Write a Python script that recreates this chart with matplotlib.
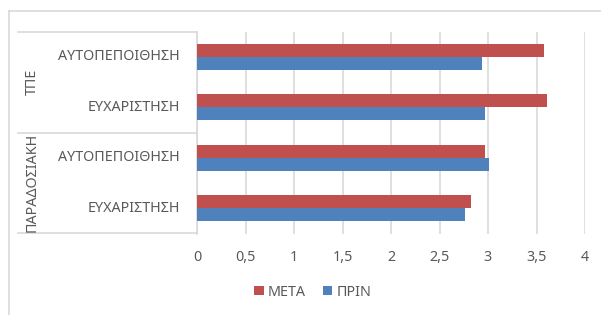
import matplotlib
matplotlib.use("Agg")
import matplotlib.pyplot as plt
from matplotlib.lines import Line2D
from matplotlib.patches import Patch
import numpy as np

groups = ["ΤΠΕ", "ΠΑΡΑΔΟΣΙΑΚΗ"]
categories = ["ΑΥΤΟΠΕΠΟΙΘΗΣΗ", "ΕΥΧΑΡΙΣΤΗΣΗ", "ΑΥΤΟΠΕΠΟΙΘΗΣΗ", "ΕΥΧΑΡΙΣΤΗΣΗ"]  # top to bottom
meta = [3.58, 3.61, 2.97, 2.82]
prin = [2.94, 2.97, 3.01, 2.76]
series_names = ["ΜΕΤΑ", "ΠΡΙΝ"]
xticks = [0, 0.5, 1, 1.5, 2, 2.5, 3, 3.5, 4]
xtick_labels = ["0", "0,5", "1", "1,5", "2", "2,5", "3", "3,5", "4"]

W, H = 601, 315
RED = "#C0504D"
BLUE = "#4F81BD"
GRID = "#D9D9D9"
TXT = "#595959"
FONT = "Noto Sans"
FS = 10.3

fig = plt.figure(figsize=(W / 100, H / 100), dpi=100)
fig.patch.set_facecolor("white")

def fx(px):
    return px / W

def fy(py):
    return 1 - py / H

ax_l, ax_r, ax_t, ax_b = 197, 585, 31.5, 233.5
ax = fig.add_axes([fx(ax_l), fy(ax_b), fx(ax_r) - fx(ax_l), fy(ax_t) - fy(ax_b)])

n = len(categories)
ypos = np.arange(n)[::-1]  # top category at highest y
bh = 0.257
ax.barh(ypos + bh / 2, meta, height=bh, color=RED, label=series_names[0], zorder=3)
ax.barh(ypos - bh / 2, prin, height=bh, color=BLUE, label=series_names[1], zorder=3)

ax.set_xlim(0, 4)
ax.set_ylim(-0.5, n - 0.5)
ax.set_xticks(xticks)
ax.set_xticklabels(xtick_labels, fontsize=FS, color=TXT, family=FONT)
ax.tick_params(axis="x", length=0, pad=12)
ax.set_yticks([])
ax.grid(axis="x", color=GRID, linewidth=1.2, zorder=0)
for s in ["top", "right", "bottom"]:
    ax.spines[s].set_visible(False)
ax.spines["left"].set_color(GRID)
ax.spines["left"].set_linewidth(1.2)

# category labels
for y, c in zip(ypos, categories):
    ax.text(-17 / 97.0, y, c, ha="right", va="center", fontsize=FS, color=TXT,
            family=FONT, transform=ax.transData, clip_on=False)

# group separators
for py in [32, 132.5, 233]:
    fig.add_artist(Line2D([fx(18), fx(197)], [fy(py), fy(py)], color=GRID, linewidth=1.2))

# group labels
fig.text(fx(32), fy(82), groups[0], rotation=90, ha="center", va="center",
         fontsize=FS, color=TXT, family=FONT)
fig.text(fx(32), fy(182.5), groups[1], rotation=90, ha="center", va="center",
         fontsize=FS, color=TXT, family=FONT)

# outer chart border (top and left visible)
fig.add_artist(Line2D([fx(8.5), fx(8.5)], [fy(11), fy(H + 5)], color=GRID, linewidth=1.2))
fig.add_artist(Line2D([fx(8.5), fx(W + 5)], [fy(11), fy(11)], color=GRID, linewidth=1.2))

handles = [Patch(facecolor=RED), Patch(facecolor=BLUE)]
fig.legend(handles, series_names, loc="center", bbox_to_anchor=(fx(313), fy(292)),
           ncol=2, frameon=False, handlelength=0.65, handleheight=0.65,
           handletextpad=0.3, columnspacing=1.2,
           prop={"family": FONT, "size": FS}, labelcolor=TXT)

fig.savefig("out.png", dpi=100, facecolor="white")
